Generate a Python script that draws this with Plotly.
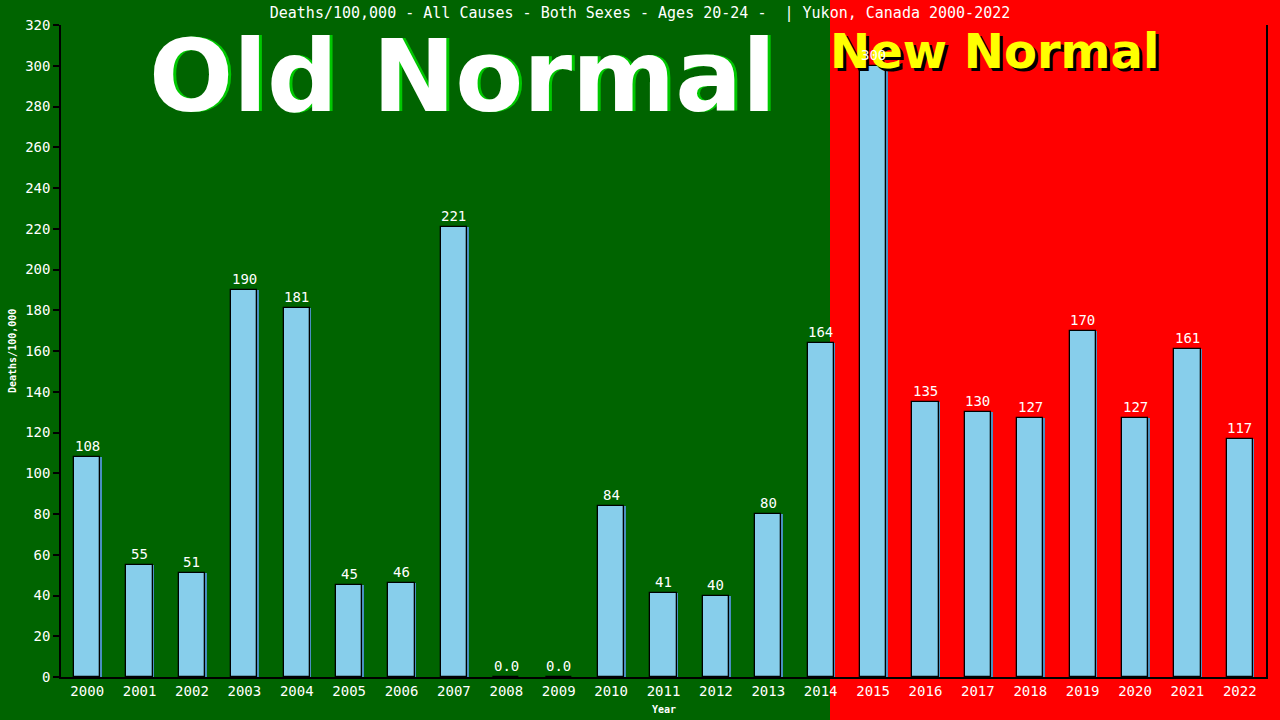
import plotly.graph_objects as go

years = list(range(2000, 2023))
values = [108, 55, 51, 190, 181, 45, 46, 221, 0, 0, 84, 41, 40, 80, 164,
          300, 135, 130, 127, 170, 127, 161, 117]
labels = ["108", "55", "51", "190", "181", "45", "46", "221", "0.0", "0.0", "84",
          "41", "40", "80", "164", "300", "135", "130", "127", "170", "127", "161", "117"]
yticks = list(range(0, 321, 20))
title = "Deaths/100,000 - All Causes - Both Sexes - Ages 20-24 - &nbsp;| Yukon, Canada 2000-2022"

MONO = "DejaVu Sans Mono"
BIG = "DejaVu Sans"

fig = go.Figure()
# slight blue shadow behind bars
fig.add_trace(go.Bar(x=years, y=values, width=0.5, offset=-0.25 + 0.03,
                     marker=dict(color="#4A8FC0", line=dict(width=0)),
                     hoverinfo="skip", showlegend=False))
fig.add_trace(go.Bar(x=years, y=values, width=0.5, offset=-0.25,
                     marker=dict(color="#87CEEB", line=dict(color="black", width=1.3)),
                     showlegend=False))

shapes = [dict(type="rect", xref="paper", yref="paper",
               x0=(830 - 61) / 1205, x1=1.2, y0=-0.2, y1=1.2,
               fillcolor="#FF0000", line=dict(width=0), layer="below")]

annotations = []
ox, oy = (462 - 61) / 1205, 1 - (76 - 25) / 652
nx, ny = (994 - 61) / 1205, 1 - (51 - 25) / 652
# Old Normal with green shadow
annotations.append(dict(xref="paper", yref="paper", x=ox, y=oy,
                        text="<b>Old Normal</b>", showarrow=False, xanchor="center", yanchor="middle",
                        xshift=3,
                        font=dict(family=BIG, size=99, color="#00C800")))
annotations.append(dict(xref="paper", yref="paper", x=ox, y=oy,
                        text="<b>Old Normal</b>", showarrow=False, xanchor="center", yanchor="middle",
                        font=dict(family=BIG, size=99, color="white")))
# New Normal with black shadow
annotations.append(dict(xref="paper", yref="paper", x=nx, y=ny,
                        text="<b>New Normal</b>", showarrow=False, xanchor="center", yanchor="middle",
                        xshift=3, yshift=-3,
                        font=dict(family=BIG, size=48, color="black")))
annotations.append(dict(xref="paper", yref="paper", x=nx, y=ny,
                        text="<b>New Normal</b>", showarrow=False, xanchor="center", yanchor="middle",
                        font=dict(family=BIG, size=48, color="#FFFF00")))
# value labels
for yr, v, lab in zip(years, values, labels):
    annotations.append(dict(x=yr, y=v, xref="x", yref="y", text=lab, showarrow=False,
                            xanchor="center", yanchor="bottom", yshift=1,
                            font=dict(family=MONO, size=14, color="white")))
# axis titles
annotations.append(dict(xref="paper", yref="paper", x=0.5, y=-(709 - 677) / 652,
                        text="<b>Year</b>", showarrow=False, xanchor="center", yanchor="middle",
                        font=dict(family=MONO, size=10, color="white")))
annotations.append(dict(xref="paper", yref="paper", x=-(61 - 12) / 1205, y=1 - (351 - 25) / 652,
                        text="<b>Deaths/100,000</b>", showarrow=False, xanchor="center", yanchor="middle",
                        textangle=-90, font=dict(family=MONO, size=10, color="white")))

fig.update_layout(
    width=1280, height=720,
    margin=dict(l=61, r=14, t=25, b=43),
    paper_bgcolor="#006400", plot_bgcolor="rgba(0,0,0,0)",
    bargap=0, barmode="overlay",
    title=dict(text=title, x=0.5, xanchor="center", y=1 - 13 / 720, yanchor="middle",
               font=dict(family=MONO, size=15, color="white")),
    shapes=shapes, annotations=annotations,
    xaxis=dict(range=[1999.5, 2022.5], tickvals=years, ticktext=[str(y) for y in years],
               showgrid=False, zeroline=False, showline=True, linecolor="black", linewidth=1.5,
               ticks="", tickfont=dict(family=MONO, size=14, color="white"), automargin=False),
    yaxis=dict(range=[0, 320], tickvals=yticks, showgrid=False, zeroline=False,
               showline=True, linecolor="black", linewidth=1.5, mirror=True,
               ticks="outside", ticklen=6, tickcolor="black", tickwidth=1.5,
               tickfont=dict(family=MONO, size=14, color="white"), automargin=False),
)

fig.write_html("out.html", config={"displayModeBar": False},
               post_script="document.body.style.margin='0';document.body.style.padding='0';"
                           "document.body.style.overflow='hidden';")
